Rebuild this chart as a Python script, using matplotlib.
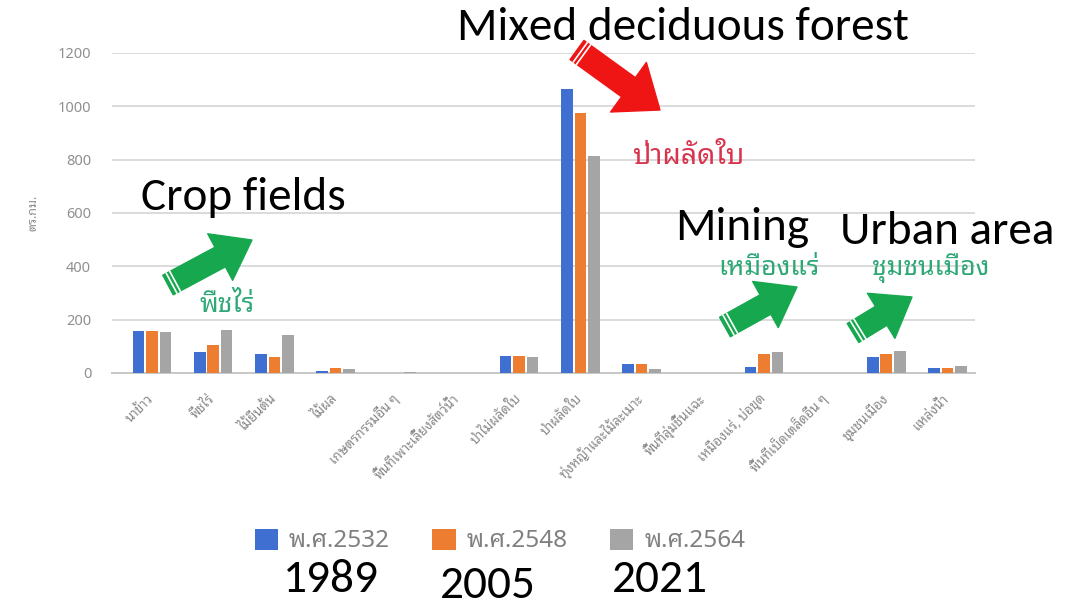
import numpy as np
import matplotlib
matplotlib.use("Agg")
import matplotlib.pyplot as plt
from matplotlib.patches import FancyArrowPatch

W, H = 1066, 607
THAI = ["Noto Sans Thai Looped", "Noto Sans"]
ENG = ["Carlito", "DejaVu Sans"]

# ประเภทการใช้ที่ดิน (ตร.กม.)
categories = [
    "นาข้าว", "พืชไร่", "ไม้ยืนต้น", "ไม้ผล", "เกษตรกรรมอื่น ๆ",
    "พื้นที่เพาะเลี้ยงสัตว์น้ำ", "ป่าไม่ผลัดใบ", "ป่าผลัดใบ",
    "ทุ่งหญ้าและไม้ละเมาะ", "พื้นที่ลุ่มชื้นแฉะ", "เหมืองแร่, บ่อขุด",
    "พื้นที่เบ็ดเตล็ดอื่น ๆ", "ชุมชนเมือง", "แหล่งน้ำ",
]
y2532 = [157, 80, 71, 9, 1, 0, 62, 1065, 32, 0, 24, 0, 59, 17]
y2548 = [157, 105, 61, 17, 1, 0, 62, 975, 32, 0, 70, 0, 71, 20]
y2564 = [153, 161, 142, 15, 3, 0, 60, 815, 15, 0, 80, 0, 84, 26]
series_labels = ["พ.ศ.2532", "พ.ศ.2548", "พ.ศ.2564"]
years_ce = ["1989", "2005", "2021"]
colors = ["#3f6fd0", "#ed7d31", "#a5a5a5"]


def px(x, y):
    # pixel (from top-left) -> figure fraction
    return x / W, 1 - y / H


fig = plt.figure(figsize=(W / 100, H / 100), dpi=100)
ax = fig.add_axes([112 / W, 1 - 373 / H, (975 - 112) / W, (373 - 53) / H])

x = np.arange(len(categories))
bw, off = 0.19, 0.22
handles = []
for k, (vals, lab, c) in enumerate(zip([y2532, y2548, y2564], series_labels, colors)):
    b = ax.bar(x + (k - 1) * off, vals, bw, color=c, label=lab, zorder=3)
    handles.append(b)

ax.set_xlim(-0.654, 13.45)
ax.set_ylim(0, 1200)
ax.set_yticks(range(0, 1201, 200))
ax.yaxis.grid(True, color="#dadada", linewidth=1.4, zorder=0)
ax.set_axisbelow(True)
for s in ["top", "right", "left"]:
    ax.spines[s].set_visible(False)
ax.spines["bottom"].set_color("#c8c8c8")
ax.spines["bottom"].set_linewidth(1.4)
ax.tick_params(axis="both", length=0)
ax.tick_params(axis="y", pad=15, labelsize=10.5, labelcolor="#909090")
for t in ax.get_yticklabels():
    t.set_family(["Noto Sans", "DejaVu Sans"])

ax.set_xticks(x)
ax.set_xticklabels(categories, rotation=45, ha="right", va="center",
                   rotation_mode="anchor", fontsize=9.5, color="#8a8a8a", family=THAI)
ax.tick_params(axis="x", pad=17)

fig.text(*px(33, 213), "ตร.กม.", rotation=90, ha="center", va="center",
         fontsize=9, color="#8c8c8c", family=THAI)

# legend
fig.legend(handles=handles, labels=series_labels, loc="center",
           bbox_to_anchor=px(500, 541), ncol=3, frameon=False,
           prop={"family": THAI, "size": 17.5}, labelcolor="#808080",
           handlelength=0.95, handleheight=0.95, handletextpad=0.45,
           columnspacing=1.75)

# English overlays
for (tx, ty), txt in zip([(331, 580), (488, 585), (660, 580)], years_ce):
    fig.text(*px(tx, ty), txt, ha="center", va="center", fontsize=34, family=ENG)
fig.text(*px(683, 27), "Mixed deciduous forest", ha="center", va="center", fontsize=34, family=ENG)
fig.text(*px(243, 197), "Crop fields", ha="center", va="center", fontsize=34, family=ENG)
fig.text(*px(742, 228), "Mining", ha="center", va="center", fontsize=34, family=ENG)
fig.text(*px(947, 232), "Urban area", ha="center", va="center", fontsize=34, family=ENG)

# Thai annotations
fig.text(*px(688, 157), "ป่าผลัดใบ", ha="center", va="center", fontsize=20.5, color="#d8344e", family=THAI)
green_txt = "#2fa877"
fig.text(*px(227, 305), "พืชไร่", ha="center", va="center", fontsize=19, color=green_txt, family=THAI)
fig.text(*px(769, 268), "เหมืองแร่", ha="center", va="center", fontsize=19, color=green_txt, family=THAI)
fig.text(*px(931, 268), "ชุมชนเมือง", ha="center", va="center", fontsize=19, color=green_txt, family=THAI)


def block_arrow(tail, tip, color, tw=16, hw=38, hl=26):
    p0, p1 = px(*tail), px(*tip)
    arr = FancyArrowPatch(p0, p1, transform=fig.transFigure,
                          arrowstyle=f"simple,head_length={hl},head_width={hw},tail_width={tw}",
                          color=color, mutation_scale=1, shrinkA=0, shrinkB=0, zorder=5)
    fig.add_artist(arr)
    # white stripes near the tail
    d = np.array(tip, float) - np.array(tail, float)
    d /= np.hypot(*d)
    n = np.array([-d[1], d[0]])
    half = tw * 1.39 / 2
    for s in (4, 8):
        c = np.array(tail, float) + d * s
        a, b = c + n * half, c - n * half
        fig.add_artist(plt.Line2D([a[0] / W, b[0] / W], [1 - a[1] / H, 1 - b[1] / H],
                                  transform=fig.transFigure, color="white", lw=1.2, zorder=6))


block_arrow((577, 50), (660, 110), "#f01515", tw=17, hw=44, hl=28)
green = "#17a84f"
block_arrow((168, 285), (252, 240), green)
block_arrow((725, 327), (797, 287), green)
block_arrow((853, 333), (912, 297), green)

fig.savefig("out.png", dpi=100)
